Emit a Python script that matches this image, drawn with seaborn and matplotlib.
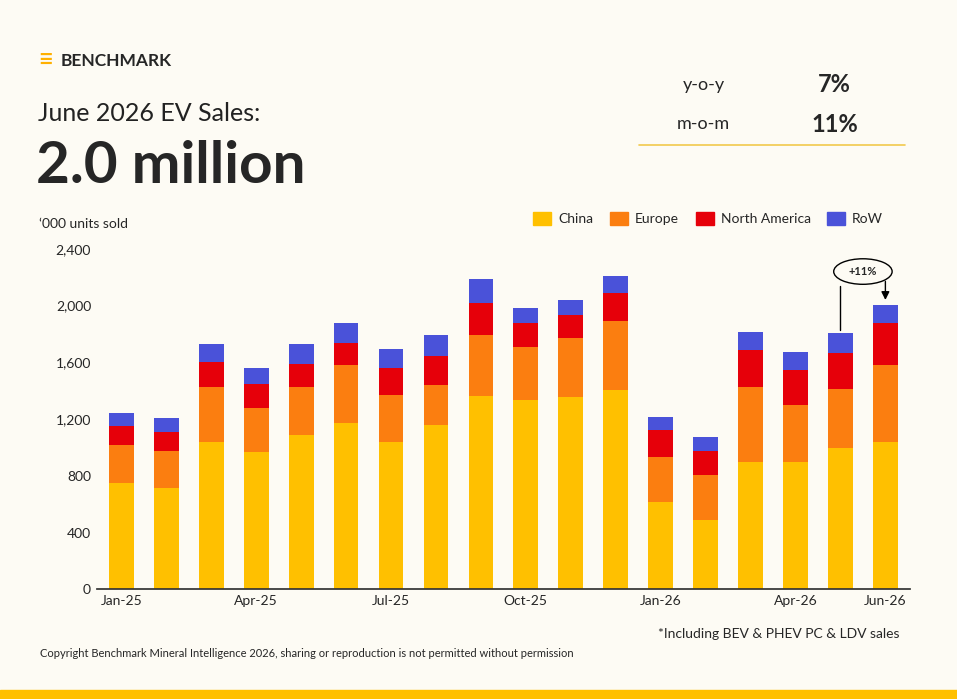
import matplotlib
matplotlib.use("Agg")
import matplotlib.pyplot as plt
import seaborn as sns
import numpy as np
import pandas as pd
from matplotlib.patches import Ellipse

months = ["Jan-25","Feb-25","Mar-25","Apr-25","May-25","Jun-25","Jul-25","Aug-25","Sep-25","Oct-25","Nov-25","Dec-25",
          "Jan-26","Feb-26","Mar-26","Apr-26","May-26","Jun-26"]
china  = [748,713,1038,967,1087,1172,1038,1158,1363,1334,1356,1405,614,487,897,897,995,1038]
europe = [269,261,388,311,339,409,332,282,430,375,416,487,318,318,529,402,417,543]
namer  = [134,134,177,169,163,156,190,205,226,169,162,198,191,169,261,247,254,297]
row    = [92,99,127,113,141,141,134,148,170,106,106,120,91,99,127,127,141,127]
tick_labels = ["Jan-25","","","Apr-25","","","Jul-25","","","Oct-25","","","Jan-26","","","Apr-26","","Jun-26"]
series = ["China","Europe","North America","RoW"]
colors = ["#FFC000","#FB7E10","#E6000A","#4A52D9"]

sns.set_theme(style="white")
plt.rcParams['font.family'] = ['Lato','DejaVu Sans']
bg = "#FDFBF4"
fig = plt.figure(figsize=(9.57,6.99), dpi=100, facecolor=bg)
ax = fig.add_axes([0.101,0.157,0.85,0.487], facecolor=bg)

c1 = np.array(china); c2 = c1+np.array(europe); c3 = c2+np.array(namer); c4 = c3+np.array(row)
for cum, col in zip([c4,c3,c2,c1], colors[::-1]):
    df = pd.DataFrame({"m":months,"v":cum})
    sns.barplot(data=df, x="m", y="v", color=col, width=0.55, saturation=1, ax=ax, order=months,
                linewidth=0, edgecolor="none")

ax.set_ylim(0,2400); ax.set_xlim(-0.55,17.55)
ax.set_yticks(range(0,2401,400))
ax.set_yticklabels([f"{v:,}" for v in range(0,2401,400)], fontsize=10)
ax.set_xticks(range(18)); ax.set_xticklabels(tick_labels, fontsize=10)
ax.set_xlabel(""); ax.set_ylabel("")
for s in ["top","right","left"]: ax.spines[s].set_visible(False)
ax.spines["bottom"].set_color("#333333")
ax.tick_params(axis="x", length=0, pad=4)
ax.tick_params(axis="y", length=0, pad=4)

# annotation +11%
ax.annotate("", xy=(17,c4[17]+15), xytext=(17,2190), arrowprops=dict(arrowstyle="-|>", color="black", lw=1))
ax.plot([16,16],[c4[16]+20,2140], color="black", lw=1)
ax.add_patch(Ellipse((16.5,2240), 1.3, 180, fill=False, edgecolor="black", lw=1))
ax.text(16.5,2240,"+11%",ha="center",va="center",fontsize=8,fontweight="bold")

handles=[plt.Rectangle((0,0),1,1,color=c) for c in colors]
fig.legend(handles, series, loc="center", bbox_to_anchor=(0.74,0.687), ncol=4, frameon=False,
           fontsize=10, handlelength=1.3, handleheight=1.1, columnspacing=1.2, handletextpad=0.5)

fig.text(0.041,0.679,"‘000 units sold",fontsize=10,va="center")
fig.text(0.04,0.837,"June 2026 EV Sales:",fontsize=18,va="center",color="#222")
fig.text(0.038,0.762,"2.0 million",fontsize=42,fontweight="bold",va="center")
fig.text(0.063,0.913,"BENCHMARK",fontsize=12.5,fontweight="bold",va="center")
fig.text(0.040,0.915,"≡",fontsize=18,fontweight="bold",va="center",color="#FFB000")
fig.text(0.735,0.879,"y-o-y",fontsize=13,ha="center",va="center")
fig.text(0.872,0.879,"7%",fontsize=17,fontweight="bold",ha="center",va="center")
fig.text(0.735,0.822,"m-o-m",fontsize=13,ha="center",va="center")
fig.text(0.872,0.822,"11%",fontsize=17,fontweight="bold",ha="center",va="center")
fig.add_artist(plt.Line2D([0.668,0.946],[0.793,0.793],color="#F2C94C",lw=1.2))
fig.text(0.94,0.093,"*Including BEV & PHEV PC & LDV sales",fontsize=10,ha="right",va="center")
fig.text(0.042,0.065,"Copyright Benchmark Mineral Intelligence 2026, sharing or reproduction is not permitted without permission",fontsize=8,va="center")
fig.add_artist(plt.Rectangle((0,0),1,0.013,color="#FFC000",transform=fig.transFigure))

fig.savefig("out.png", dpi=100, facecolor=bg)
